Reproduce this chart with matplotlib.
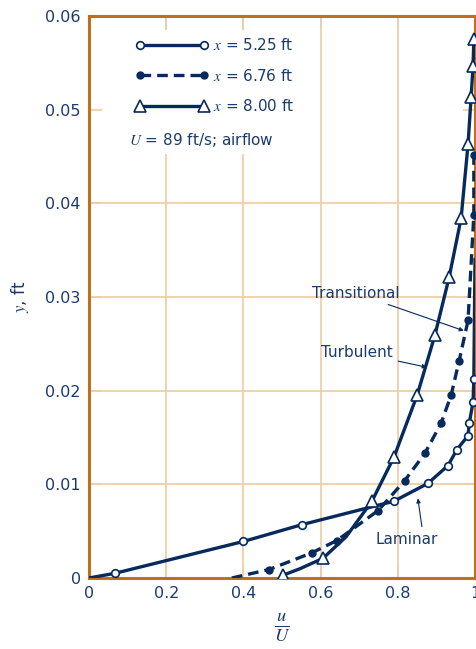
import matplotlib
matplotlib.use("Agg")
import matplotlib.pyplot as plt
from matplotlib.patches import Rectangle

# velocity profiles (u/U, y in ft)
lam_u = [0.0, 0.067, 0.40, 0.552, 0.79, 0.878, 0.930, 0.953, 0.982, 0.985, 0.995, 0.997, 1.0]
lam_y = [0.0, 0.0005, 0.0039, 0.0057, 0.0082, 0.0101, 0.0120, 0.0137, 0.0152, 0.0165, 0.0188, 0.0213, 0.034]
lam_marks = list(range(1, 12))

tra_u = [0.37, 0.466, 0.578, 0.642, 0.749, 0.818, 0.870, 0.912, 0.938, 0.959, 0.982, 0.997, 0.997]
tra_y = [0.0, 0.0009, 0.0027, 0.0040, 0.0072, 0.0104, 0.0133, 0.0165, 0.0195, 0.0232, 0.0275, 0.0388, 0.0452]
tra_marks = list(range(1, 13))

tur_u = [0.503, 0.547, 0.606, 0.666, 0.733, 0.790, 0.850, 0.896, 0.933, 0.964, 0.982, 0.990, 0.995, 0.997]
tur_y = [0.0003, 0.0010, 0.0021, 0.0044, 0.0082, 0.0129, 0.0195, 0.0259, 0.0321, 0.0384, 0.0463, 0.0514, 0.0547, 0.0575]
tur_marks = [0, 2, 4, 5, 6, 7, 8, 9, 10, 11, 12, 13]

x_ticks = [0, 0.2, 0.4, 0.6, 0.8, 1.0]
x_labels = ["0", "0.2", "0.4", "0.6", "0.8", "1"]
y_ticks = [0, 0.01, 0.02, 0.03, 0.04, 0.05, 0.06]
y_labels = ["0", "0.01", "0.02", "0.03", "0.04", "0.05", "0.06"]
grid_x = [0.2, 0.4, 0.6, 0.8]
grid_y = [0.01, 0.02, 0.03, 0.04]

navy = "#062a5c"
text_c = "#1b3b6e"
tan = "#f0cfa8"
rim = "#c0701c"

plt.rcParams["font.family"] = ["DejaVu Sans"]
plt.rcParams["mathtext.fontset"] = "stix"

fig = plt.figure(figsize=(4.77, 6.49), dpi=100)
ax = fig.add_axes([0.1866, 0.1094, 0.8092, 0.8659])

for g in grid_x:
    ax.axvline(g, color=tan, lw=1.3, zorder=0.5)
for g in grid_y:
    ax.axhline(g, color=tan, lw=1.3, zorder=0.5)

# white patch behind the legend block
ax.add_patch(Rectangle((0.03, 0.755), 0.52, 0.22, transform=ax.transAxes,
                       facecolor="white", edgecolor="none", zorder=1))

ax.plot(lam_u, lam_y, color=navy, lw=2.4, marker="o", ms=5.5, mfc="white",
        mec=navy, mew=1.2, markevery=lam_marks, zorder=3, label=r"$x$ = 5.25 ft")
ax.plot(tra_u, tra_y, color=navy, lw=2.4, ls=(0, (3.2, 1.8)), marker="o", ms=5,
        mfc=navy, mec=navy, markevery=tra_marks, zorder=3, label=r"$x$ = 6.76 ft")
ax.plot(tur_u, tur_y, color=navy, lw=2.4, marker="^", ms=8.5, mfc="white",
        mec=navy, mew=1.2, markevery=tur_marks, zorder=3, label=r"$x$ = 8.00 ft")

leg = ax.legend(loc="upper left", bbox_to_anchor=(0.085, 0.987), frameon=False,
                numpoints=2, handlelength=4.75, handletextpad=0.3,
                labelspacing=0.95, fontsize=11)
for t in leg.get_texts():
    t.set_color(text_c)

ax.text(0.29, 0.779, r"$U$ = 89 ft/s; airflow", transform=ax.transAxes,
        ha="center", va="center", fontsize=11, color=text_c)

arrow = dict(arrowstyle="-|>", color=navy, lw=0.8, mutation_scale=6, shrinkA=2, shrinkB=0)
ax.annotate("Transitional", xy=(0.971, 0.0264), xytext=(0.805, 0.0304),
            ha="right", va="center", fontsize=11, color=text_c, arrowprops=arrow)
ax.annotate("Turbulent", xy=(0.875, 0.0225), xytext=(0.787, 0.0241),
            ha="right", va="center", fontsize=11, color=text_c, arrowprops=arrow)
ax.annotate("Laminar", xy=(0.852, 0.0085), xytext=(0.824, 0.0041),
            ha="center", va="center", fontsize=11, color=text_c,
            arrowprops=dict(arrow, relpos=(0.75, 1.0)))

ax.set_xlim(0, 1)
ax.set_ylim(0, 0.06)
ax.set_xticks(x_ticks)
ax.set_xticklabels(x_labels)
ax.set_yticks(y_ticks)
ax.set_yticklabels(y_labels)
ax.tick_params(direction="in", length=9, width=1.3, color=tan, labelcolor=text_c,
               labelsize=11.5, left=True, right=True, top=True, bottom=True, pad=6)
for s in ax.spines.values():
    s.set_color(rim)
    s.set_linewidth(2.2)
    s.set_zorder(2)

ax.set_ylabel(r"$y$, ft", color=text_c, fontsize=12, labelpad=10)
ax.set_xlabel(r"$\frac{u}{U}$", color=text_c, fontsize=19, labelpad=6)

fig.savefig("out.png", dpi=100)
